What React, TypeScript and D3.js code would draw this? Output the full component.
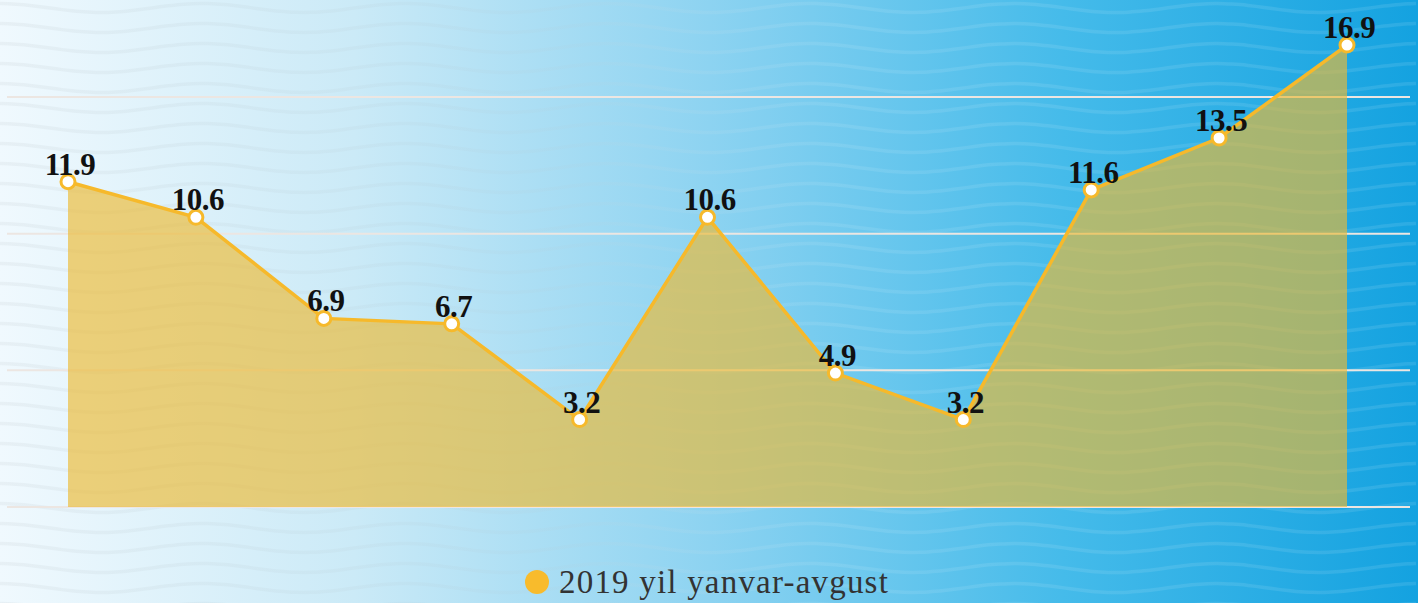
import React, { useEffect, useRef } from "react";
import * as d3 from "d3";

const categories = ["1", "2", "3", "4", "5", "6", "7", "8", "9", "10", "11"];
const values = [11.9, 10.6, 6.9, 6.7, 3.2, 10.6, 4.9, 3.2, 11.6, 13.5, 16.9];
const gridTicks = [0, 5, 10, 15];
const seriesName = "2019 yil yanvar-avgust";

const W = 1418;
const H = 603;

export default function App() {
  const ref = useRef<SVGSVGElement | null>(null);

  useEffect(() => {
    const svg = d3.select(ref.current);
    svg.selectAll("*").remove();

    const defs = svg.append("defs");
    const bg = defs.append("linearGradient").attr("id", "bg").attr("x1", "0").attr("x2", "1").attr("y1", "0").attr("y2", "0");
    bg.append("stop").attr("offset", "0").attr("stop-color", "#f0f9fe");
    bg.append("stop").attr("offset", "0.25").attr("stop-color", "#cbeaf7");
    bg.append("stop").attr("offset", "0.5").attr("stop-color", "#8dd3f1");
    bg.append("stop").attr("offset", "0.75").attr("stop-color", "#45bbea");
    bg.append("stop").attr("offset", "1").attr("stop-color", "#14a2e0");

    const wg = defs.append("linearGradient").attr("id", "wave")
      .attr("gradientUnits", "userSpaceOnUse").attr("x1", 0).attr("x2", W).attr("y1", 0).attr("y2", 0);
    wg.append("stop").attr("offset", "0").attr("stop-color", "#a0a8ac").attr("stop-opacity", 0.11);
    wg.append("stop").attr("offset", "0.4").attr("stop-color", "#b8c8d0").attr("stop-opacity", 0.1);
    wg.append("stop").attr("offset", "0.6").attr("stop-color", "#ffffff").attr("stop-opacity", 0.09);
    wg.append("stop").attr("offset", "1").attr("stop-color", "#ffffff").attr("stop-opacity", 0.1);

    svg.append("rect").attr("width", W).attr("height", H).attr("fill", "url(#bg)");

    // decorative waves
    const waveG = svg.append("g");
    for (let y0 = -12; y0 < H + 20; y0 += 20) {
      const pts: [number, number][] = [];
      for (let x = 0; x <= W; x += 8) {
        pts.push([x, y0 + 4.5 * Math.sin(((x - 50) / 203) * 2 * Math.PI)]);
      }
      waveG.append("path")
        .attr("d", d3.line().curve(d3.curveBasis)(pts) as string)
        .attr("fill", "none")
        .attr("stroke", "url(#wave)")
        .attr("stroke-width", 3.5);
    }

    const x = d3.scalePoint<string>().domain(categories).range([68, 1347]);
    const y = d3.scaleLinear().domain([0, 15]).range([507, 97]);

    // gridlines
    svg.append("g").selectAll("line").data(gridTicks).join("line")
      .attr("x1", 7).attr("x2", 1410)
      .attr("y1", (d) => y(d)).attr("y2", (d) => y(d))
      .attr("stroke", "#ece6e2").attr("stroke-width", 2);

    const data = categories.map((c, i) => ({ c, v: values[i] }));

    const area = d3.area<{ c: string; v: number }>()
      .x((d) => x(d.c) as number)
      .y0(y(0))
      .y1((d) => y(d.v));
    svg.append("path").attr("d", area(data) as string)
      .attr("fill", "rgb(236,186,50)").attr("fill-opacity", 0.65);

    const line = d3.line<{ c: string; v: number }>()
      .x((d) => x(d.c) as number)
      .y((d) => y(d.v));
    svg.append("path").attr("d", line(data) as string)
      .attr("fill", "none").attr("stroke", "#f6b92b").attr("stroke-width", 3.5);

    svg.append("g").selectAll("circle").data(data).join("circle")
      .attr("cx", (d) => x(d.c) as number)
      .attr("cy", (d) => y(d.v))
      .attr("r", 7)
      .attr("fill", "#ffffff")
      .attr("stroke", "#f6b92b")
      .attr("stroke-width", 3);

    svg.append("g").selectAll("text").data(data).join("text")
      .attr("x", (d) => (x(d.c) as number) + 2)
      .attr("y", (d) => y(d.v) - 7)
      .attr("text-anchor", "middle")
      .attr("font-family", "'Liberation Serif', 'Times New Roman', serif")
      .attr("font-weight", "bold")
      .attr("font-size", 31)
      .attr("letter-spacing", -0.5)
      .attr("fill", "#111")
      .text((d) => d.v.toFixed(1));

    // legend
    svg.append("circle").attr("cx", 537).attr("cy", 582).attr("r", 12).attr("fill", "#f8bb2c");
    svg.append("text").attr("x", 559).attr("y", 593)
      .attr("font-family", "'Liberation Serif', 'Times New Roman', serif")
      .attr("font-size", 33)
      .attr("letter-spacing", 1.2)
      .attr("fill", "#333")
      .text(seriesName);
  }, []);

  return (
    <svg ref={ref} width={W} height={H} style={{ position: "absolute", left: 0, top: 0, display: "block" }} />
  );
}
